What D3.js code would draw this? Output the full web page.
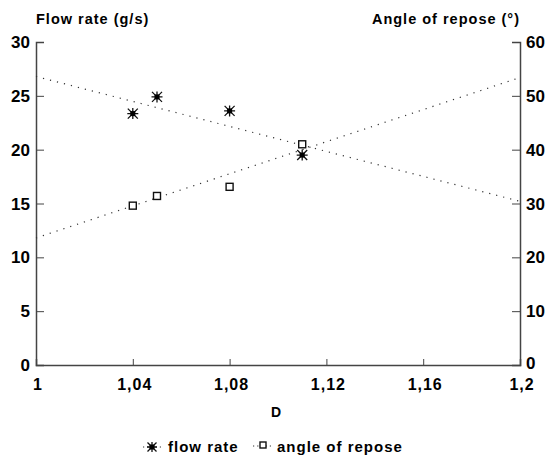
<!DOCTYPE html>
<html><head><meta charset="utf-8">
<script src="https://cdn.jsdelivr.net/npm/d3@7"></script>
<style>body{margin:0;background:#fff}svg{font-family:"Liberation Sans",Arial,sans-serif;font-weight:bold}</style>
</head><body><svg id="c" width="550" height="460"></svg>
<script>
const xTicks = [1, 1.04, 1.08, 1.12, 1.16, 1.2];
const xTickLabels = ["1", "1,04", "1,08", "1,12", "1,16", "1,2"];
const leftTicks = [0, 5, 10, 15, 20, 25, 30];
const rightTicks = [0, 10, 20, 30, 40, 50, 60];
const dVals = [1.04, 1.05, 1.08, 1.11];
const flowRate = [23.35, 24.9, 23.6, 19.5];
const angleRepose = [29.6, 31.4, 33.1, 41.0];
const trendX = [1, 1.2];
const flowTrend = [26.8, 15.2];
const angleTrend = [23.6, 53.4];

const svg = d3.select("#c");
const L = 36, R = 520, T = 42, B = 365;
const x = d3.scaleLinear().domain([1, 1.2]).range([L, R]);
const yL = d3.scaleLinear().domain([0, 30]).range([B, T]);
const yR = d3.scaleLinear().domain([0, 60]).range([B, T]);

const axCol = "#444";
const gL = svg.append("g").attr("transform", `translate(${L},0)`)
  .call(d3.axisRight(yL).tickValues(leftTicks).tickSize(8).tickFormat(""));
const gR = svg.append("g").attr("transform", `translate(${R},0)`)
  .call(d3.axisLeft(yR).tickValues(rightTicks).tickSize(8).tickFormat(""));
const gB = svg.append("g").attr("transform", `translate(0,${B})`)
  .call(d3.axisTop(x).tickValues(xTicks).tickSize(6).tickFormat(""));
[gL, gR, gB].forEach(g => {
  g.selectAll("path.domain").attr("stroke", axCol).attr("stroke-width", 1.5);
  g.selectAll("line").attr("stroke", axCol).attr("stroke-width", 1);
});

svg.append("g").selectAll("text").data(leftTicks).join("text")
  .attr("x", L - 6).attr("y", d => yL(d) + 6).attr("text-anchor", "end")
  .attr("font-size", 17).text(d => d);
svg.append("g").selectAll("text").data(rightTicks).join("text")
  .attr("x", R + 6).attr("y", d => yR(d) + (d === 0 ? 4 : 6)).attr("text-anchor", "start")
  .attr("font-size", 17).text(d => d);
svg.append("g").selectAll("text").data(xTicks).join("text")
  .attr("x", d => x(d) + 2).attr("y", B + 25).attr("text-anchor", "middle")
  .attr("font-size", 16).attr("letter-spacing", 1).text((d, i) => xTickLabels[i]);

svg.append("text").attr("x", L).attr("y", 24).attr("font-size", 14.5).attr("letter-spacing", 1).text("Flow rate (g/s)");
svg.append("text").attr("x", R).attr("y", 24).attr("font-size", 14.5).attr("letter-spacing", 1).attr("text-anchor", "end").text("Angle of repose (°)");
svg.append("text").attr("x", (L + R) / 2 - 2).attr("y", 417).attr("font-size", 14).attr("text-anchor", "middle").text("D");

const lineL = d3.line().x((d, i) => x(trendX[i])).y(d => yL(d));
const lineR = d3.line().x((d, i) => x(trendX[i])).y(d => yR(d));
svg.append("path").attr("d", lineL(flowTrend)).attr("fill", "none").attr("stroke", "#333")
  .attr("stroke-width", 1.2).attr("stroke-dasharray", "1.2,6");
svg.append("path").attr("d", lineR(angleTrend)).attr("fill", "none").attr("stroke", "#333")
  .attr("stroke-width", 1.2).attr("stroke-dasharray", "1.2,6");

function star(g, cx, cy, s) {
  const a = g.append("g").attr("transform", `translate(${cx},${cy})`);
  a.append("path").attr("d", `M${-s},${-s}L${s},${s}M${-s},${s}L${s},${-s}M0,${-s*1.1}L0,${s*1.1}M${-s*1.1},0L${s*1.1},0`)
    .attr("stroke", "#111").attr("stroke-width", 1.3);
  a.append("rect").attr("x", -2.5).attr("y", -2.5).attr("width", 5).attr("height", 5).attr("fill", "#000");
}
function square(g, cx, cy, s) {
  g.append("rect").attr("x", cx - s).attr("y", cy - s).attr("width", 2 * s).attr("height", 2 * s)
    .attr("fill", "#fff").attr("stroke", "#111").attr("stroke-width", 1.4);
}
const pts = svg.append("g");
dVals.forEach((d, i) => square(pts, x(d), yR(angleRepose[i]), 3.5));
dVals.forEach((d, i) => star(pts, x(d), yL(flowRate[i]), 5));

const lg = svg.append("g");
const ly = 452;
lg.append("line").attr("x1", 143).attr("x2", 162).attr("y1", ly - 5).attr("y2", ly - 5)
  .attr("stroke", "#333").attr("stroke-dasharray", "1.2,3");
star(lg, 152, ly - 5, 4.5);
lg.append("text").attr("x", 168).attr("y", ly).attr("font-size", 15).attr("letter-spacing", 1).text("flow rate");
lg.append("line").attr("x1", 253).attr("x2", 272).attr("y1", ly - 6).attr("y2", ly - 6)
  .attr("stroke", "#333").attr("stroke-dasharray", "1.2,3");
square(lg, 263, ly - 7, 3);
lg.append("text").attr("x", 277).attr("y", ly).attr("font-size", 15).attr("letter-spacing", 1).text("angle of repose");
</script></body></html>
